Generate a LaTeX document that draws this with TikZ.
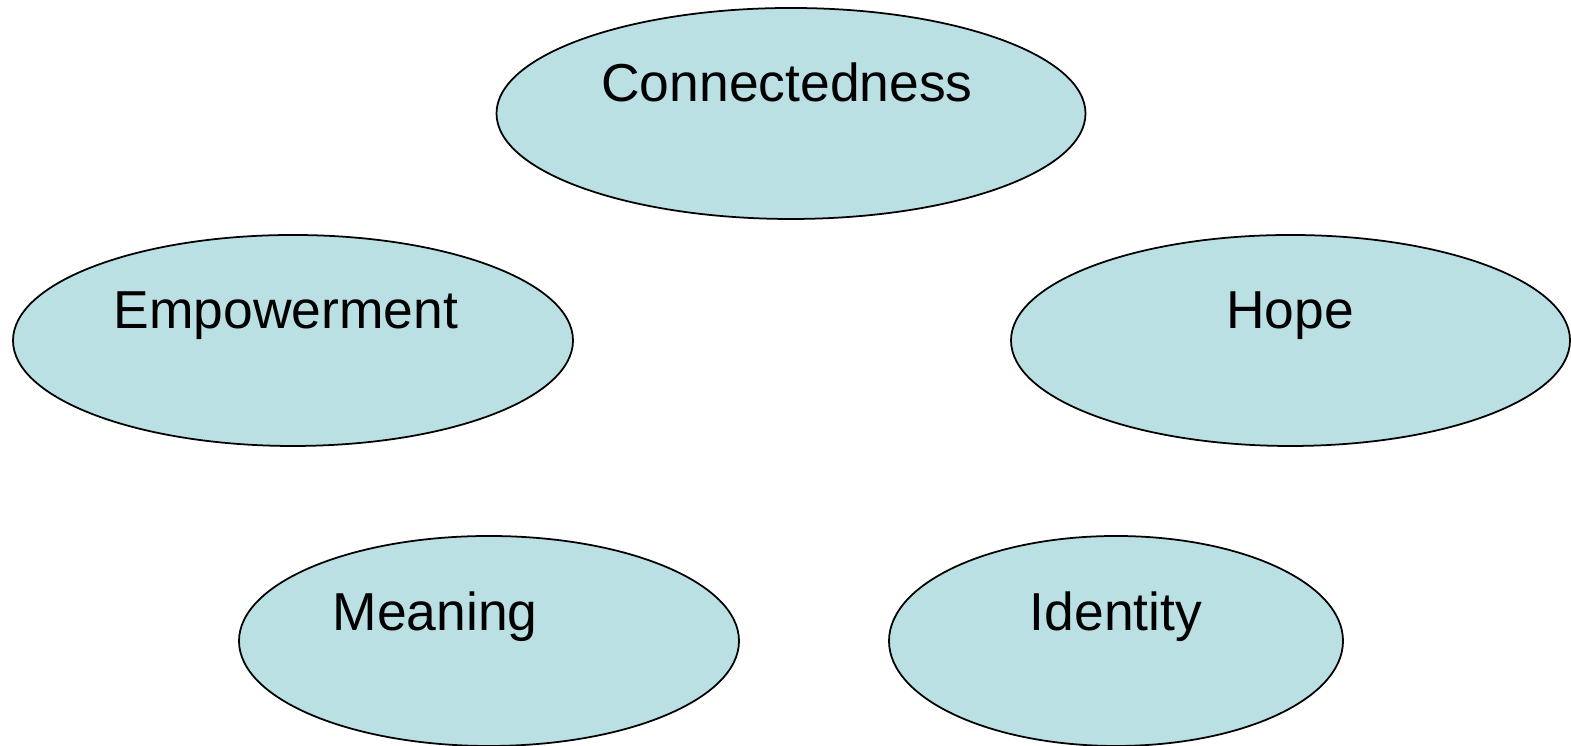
\documentclass[tikz,border=0pt]{standalone}
\usepackage{fontspec}
\setmainfont{Liberation Sans}
\usetikzlibrary{shapes.geometric}
\definecolor{bubble}{RGB}{186,224,227}

\begin{document}
\begin{tikzpicture}[
    oval/.style={ellipse, draw=black, line width=0.5pt, fill=bubble, inner sep=0pt},
    word/.style={anchor=base, inner sep=0pt, font=\fontsize{15.2}{18}\selectfont}]
\useasboundingbox (0,0) rectangle (15.71,7.46);
% top row:
\node[oval, minimum width=5.89cm, minimum height=2.11cm] (con) at (7.91,6.325) {};
\node[word] (contxt) at (7.87,6.44) {Connectedness};
% middle row:
\node[oval, minimum width=5.60cm, minimum height=2.11cm] (emp) at (2.93,4.055) {};
\node[word] (emptxt) at (2.86,4.17) {Empowerment};
\node[oval, minimum width=5.59cm, minimum height=2.11cm] (hope) at (12.905,4.055) {};
\node[word] (hopetxt) at (12.90,4.17) {Hope};
% bottom row:
\node[oval, minimum width=5.00cm, minimum height=2.10cm] (mean) at (4.89,1.05) {};
\node[word] (meantxt) at (4.35,1.15) {Meaning};
\node[oval, minimum width=4.54cm, minimum height=2.10cm] (iden) at (11.16,1.05) {};
\node[word] (identxt) at (11.16,1.15) {Identity};
\end{tikzpicture}
\end{document}
